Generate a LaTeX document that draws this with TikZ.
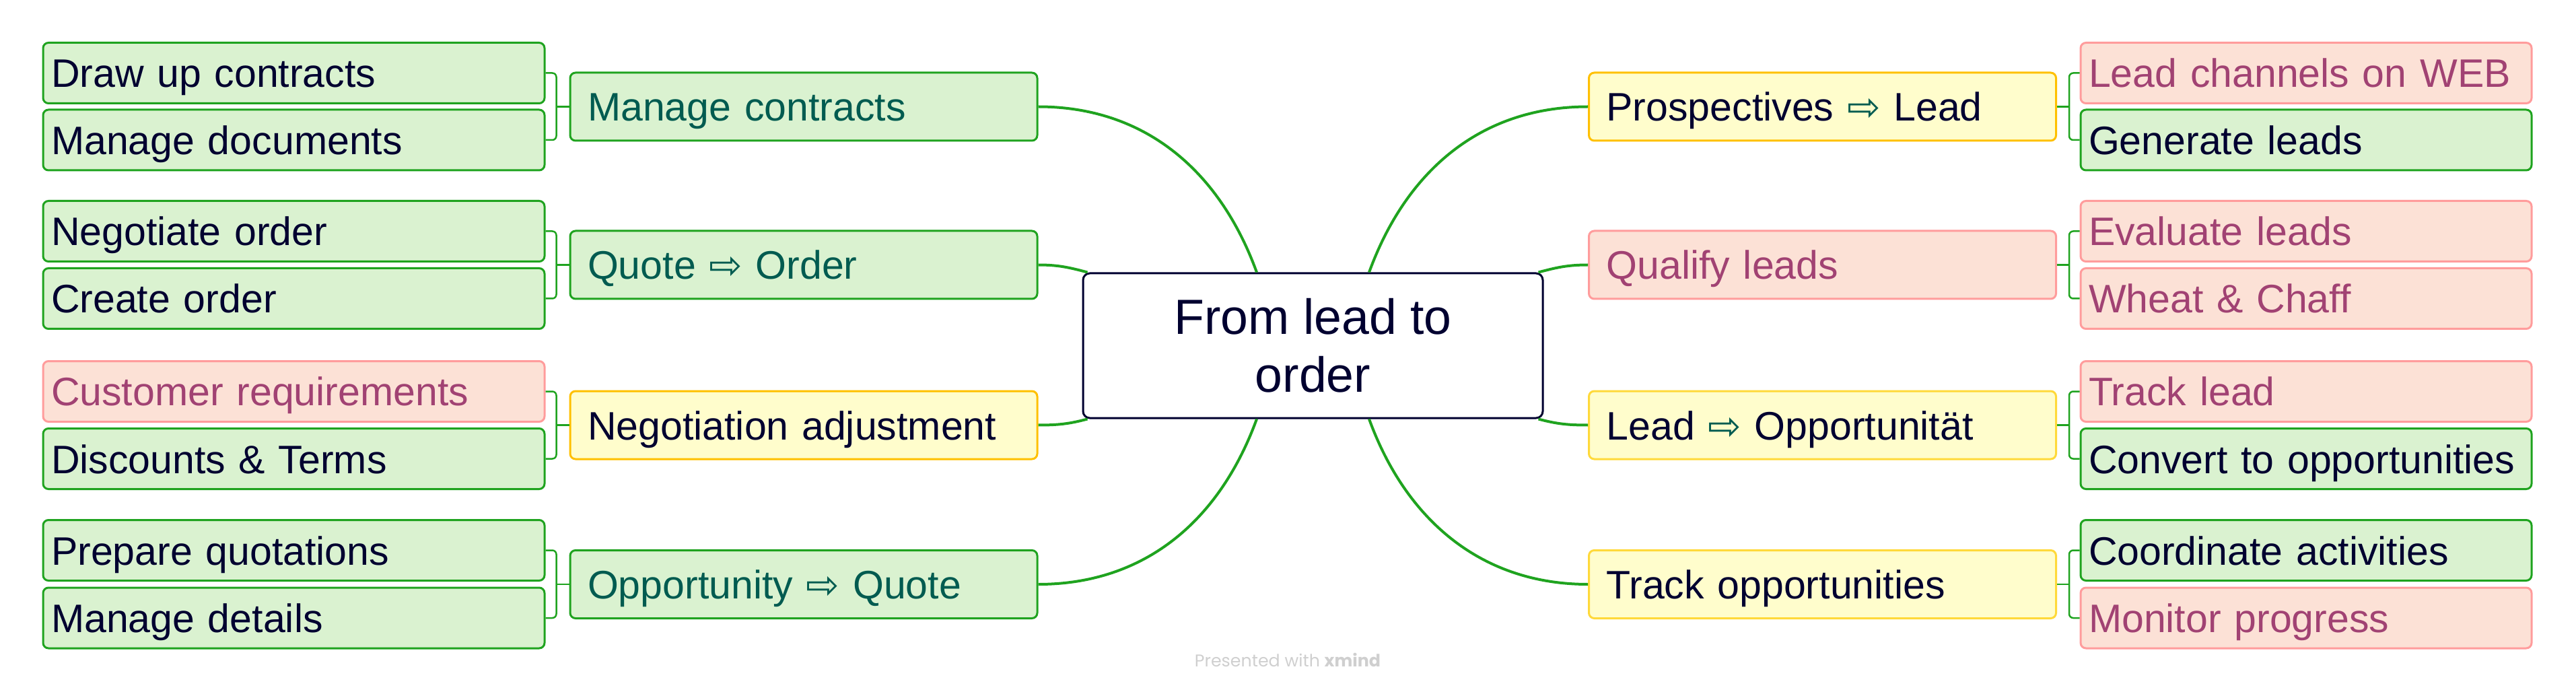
\documentclass[tikz,border=0pt]{standalone}
\usepackage{fontspec}
\setmainfont{Liberation Sans}
\newfontfamily\arrowfont{DejaVu Sans}
\newfontfamily\markfont{Poppins}
\usepackage{tikz}
\definecolor{mgreen}{HTML}{1FA31F}
\definecolor{mgreenbg}{HTML}{DAF2D0}
\definecolor{mpink}{HTML}{FF9C9C}
\definecolor{mpinkbg}{HTML}{FCE1D6}
\definecolor{mplum}{HTML}{A14273}
\definecolor{mgold}{HTML}{FFC000}
\definecolor{mlemon}{HTML}{FFD93A}
\definecolor{myellowbg}{HTML}{FFFDCC}
\definecolor{mnavy}{HTML}{000030}
\definecolor{mteal}{HTML}{005B50}
\definecolor{mgrey}{HTML}{CFCFCF}
\newcommand{\becomes}{{\arrowfont\color{mteal}⇨}}
\tikzset{
  topic/.style={rectangle,rounded corners=0.08cm,line width=0.03cm,inner ysep=0pt,
    text height=0.43cm,text depth=0pt,align=left,font=\fontsize{16.8}{20}\selectfont},
  main/.style={topic,minimum height=1.01cm,inner xsep=0.26cm,text width=6.42cm},
  subl/.style={topic,minimum height=0.9cm,inner xsep=0.12cm,text width=7.21cm},
  subr/.style={topic,minimum height=0.9cm,inner xsep=0.12cm,text width=6.46cm},
  gbox/.style={draw=mgreen,fill=mgreenbg,text=mnavy},
  tbox/.style={draw=mgreen,fill=mgreenbg,text=mteal},
  pbox/.style={draw=mpink,fill=mpinkbg,text=mplum},
  ybox/.style={draw=mgold,fill=myellowbg,text=mnavy},
  lbox/.style={draw=mlemon,fill=myellowbg,text=mnavy},
  branch/.style={draw=mgreen,line width=0.04cm},
  twig/.style={draw=mgreen,line width=0.025cm,rounded corners=0.06cm}
}
\begin{document}
\begin{tikzpicture}
\useasboundingbox (0,0) rectangle (38.27,10.27);
\node[draw=mnavy,fill=white,line width=0.03cm,rounded corners=0.1cm,minimum width=6.83cm,minimum height=2.15cm,
  align=center,text=mnavy,font=\fontsize{20.9}{24.5}\selectfont] (root) at (19.505,5.135) {From lead to\\order};

\node[main,tbox] (contracts) at (11.94,8.685) {Manage contracts};
\node[main,tbox] (quote) at (11.94,6.335) {Quote \becomes{} Order};
\node[main,ybox] (adjust) at (11.94,3.955) {Negotiation adjustment};
\node[main,tbox] (opp) at (11.94,1.59) {Opportunity \becomes{} Quote};

\node[subl,gbox] (draw) at (4.365,9.185) {Draw up contracts};
\node[subl,gbox] (docs) at (4.365,8.19) {Manage documents};
\node[subl,gbox] (negotiate) at (4.365,6.835) {Negotiate order};
\node[subl,gbox] (create) at (4.365,5.835) {Create order};
\node[subl,pbox] (needs) at (4.365,4.455) {Customer requirements};
\node[subl,gbox] (terms) at (4.365,3.455) {Discounts \& Terms};
\node[subl,gbox] (prepare) at (4.365,2.095) {Prepare quotations};
\node[subl,gbox] (details) at (4.365,1.09) {Manage details};

\node[main,ybox] (prospects) at (27.075,8.685) {Prospectives \becomes{} Lead};
\node[main,pbox] (qualify) at (27.075,6.335) {Qualify leads};
\node[main,lbox] (convert) at (27.075,3.955) {Lead \becomes{} Opportunität};
\node[main,lbox] (trackopp) at (27.075,1.59) {Track opportunities};

\node[subr,pbox] (web) at (34.26,9.185) {Lead channels on WEB};
\node[subr,gbox] (generate) at (34.26,8.19) {Generate leads};
\node[subr,pbox] (evaluate) at (34.26,6.835) {Evaluate leads};
\node[subr,pbox] (wheat) at (34.26,5.835) {Wheat \& Chaff};
\node[subr,pbox] (tracklead) at (34.26,4.455) {Track lead};
\node[subr,gbox] (toopp) at (34.26,3.455) {Convert to opportunities};
\node[subr,gbox] (coord) at (34.26,2.095) {Coordinate activities};
\node[subr,pbox] (monitor) at (34.26,1.09) {Monitor progress};

\draw[branch] (contracts.east) to[out=0,in=110] ([xshift=-0.835cm]root.north);
\draw[branch] (quote.east) to[out=0,in=165] ([xshift=0.08cm]root.north west);
\draw[branch] (adjust.east) to[out=0,in=195] ([xshift=0.08cm]root.south west);
\draw[branch] (opp.east) to[out=0,in=-110] ([xshift=-0.835cm]root.south);
\draw[branch] (prospects.west) to[out=180,in=70] ([xshift=0.835cm]root.north);
\draw[branch] (qualify.west) to[out=180,in=15] ([xshift=-0.08cm]root.north east);
\draw[branch] (convert.west) to[out=180,in=-15] ([xshift=-0.08cm]root.south east);
\draw[branch] (trackopp.west) to[out=180,in=-70] ([xshift=0.835cm]root.south);

\draw[twig] (contracts.west) -- ++(-0.19,0) coordinate (contracts-j);
\draw[twig] (draw.east) -| (contracts-j) |- (docs.east);
\draw[twig] (quote.west) -- ++(-0.19,0) coordinate (quote-j);
\draw[twig] (negotiate.east) -| (quote-j) |- (create.east);
\draw[twig] (adjust.west) -- ++(-0.19,0) coordinate (adjust-j);
\draw[twig] (needs.east) -| (adjust-j) |- (terms.east);
\draw[twig] (opp.west) -- ++(-0.19,0) coordinate (opp-j);
\draw[twig] (prepare.east) -| (opp-j) |- (details.east);

\draw[twig] (prospects.east) -- ++(0.18,0) coordinate (prospects-j);
\draw[twig] (web.west) -| (prospects-j) |- (generate.west);
\draw[twig] (qualify.east) -- ++(0.18,0) coordinate (qualify-j);
\draw[twig] (evaluate.west) -| (qualify-j) |- (wheat.west);
\draw[twig] (convert.east) -- ++(0.18,0) coordinate (convert-j);
\draw[twig] (tracklead.west) -| (convert-j) |- (toopp.west);
\draw[twig] (trackopp.east) -- ++(0.18,0) coordinate (trackopp-j);
\draw[twig] (coord.west) -| (trackopp-j) |- (monitor.west);

\node[text=mgrey,font=\markfont\fontsize{7.2}{9}\selectfont] (credit) at (19.13,0.47) {Presented with \textbf{xmind}};
\end{tikzpicture}
\end{document}
